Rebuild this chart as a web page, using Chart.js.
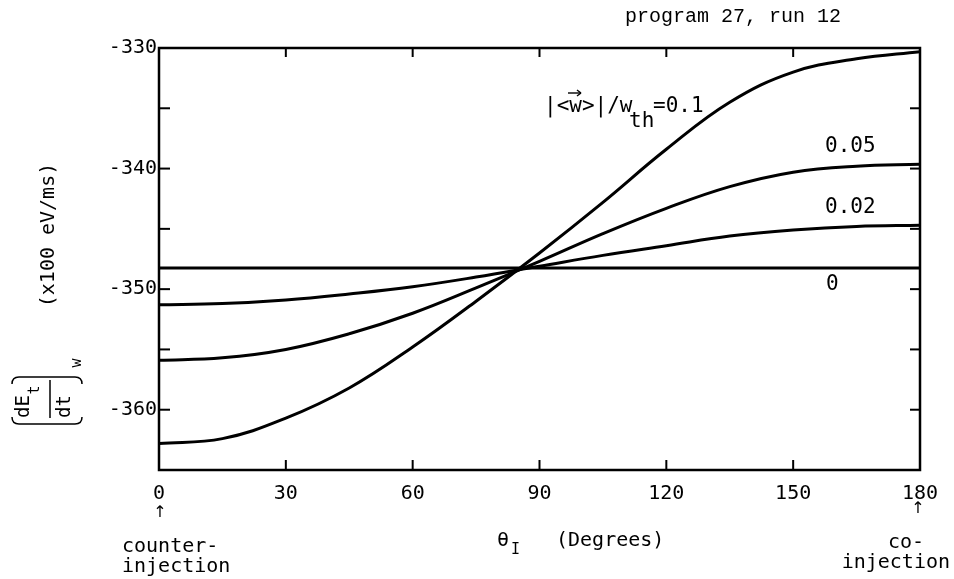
<!DOCTYPE html>
<html><head><meta charset="utf-8">
<script src="https://cdn.jsdelivr.net/npm/chart.js@4.4.1/dist/chart.umd.min.js"></script>
<style>html,body{margin:0;padding:0;background:#fff;}#wrap{width:954px;height:579px;}</style>
</head><body><div id="wrap"><canvas id="c" width="954" height="579"></canvas></div>
<script>
// ---- data ----
const thetaDeg = [0, 15, 30, 45, 60, 75, 90, 105, 120, 135, 150, 165, 180];
const ratio0   = [-348.25, -348.25, -348.25, -348.25, -348.25, -348.25, -348.25, -348.25, -348.25, -348.25, -348.25, -348.25, -348.25];
const ratio002 = [-351.3, -351.2, -350.9, -350.4, -349.8, -349.0, -348.1, -347.2, -346.4, -345.6, -345.1, -344.8, -344.7];
const ratio005 = [-355.9, -355.7, -355.0, -353.7, -352.0, -349.9, -347.7, -345.4, -343.3, -341.5, -340.3, -339.8, -339.65];
const ratio01  = [-362.8, -362.4, -360.7, -358.2, -354.8, -351.0, -347.0, -342.8, -338.4, -334.5, -332.0, -330.9, -330.3];
const seriesNames = ['0', '0.02', '0.05', '0.1'];
const xTickLabels = ['0', '30', '60', '90', '120', '150', '180'];
const yTickLabels = ['-360', '-350', '-340', '-330'];

const MONO = '"DejaVu Sans Mono", monospace';

function mk(name, vals) {
  return {
    label: name,
    data: thetaDeg.map((t, i) => ({x: t, y: vals[i]})),
    borderColor: '#000', borderWidth: 3, pointRadius: 0,
    tension: 0.4, fill: false
  };
}

const decor = {
  id: 'decor',
  afterDraw(chart) {
    const {ctx, chartArea: a, scales: {x, y}} = chart;
    ctx.save();
    ctx.strokeStyle = '#000'; ctx.fillStyle = '#000';
    const line = (x1, y1, x2, y2) => { ctx.beginPath(); ctx.moveTo(x1, y1); ctx.lineTo(x2, y2); ctx.stroke(); };
    const txt = (s, px, py, align, font) => {
      ctx.font = font || ('20px ' + MONO);
      ctx.textAlign = align || 'left'; ctx.textBaseline = 'middle';
      ctx.fillText(s, px, py);
    };
    // frame
    ctx.lineWidth = 2.5;
    ctx.strokeRect(a.left, a.top, a.right - a.left, a.bottom - a.top);
    // inward ticks
    ctx.lineWidth = 2;
    for (let v = 30; v < 180; v += 30) {
      const px = x.getPixelForValue(v);
      line(px, a.bottom, px, a.bottom - 10);
      line(px, a.top, px, a.top + 9);
    }
    for (let v = -360; v < -330; v += 5) {
      const py = y.getPixelForValue(v);
      line(a.left, py, a.left + 11, py);
      line(a.right, py, a.right - 10, py);
    }
    // header
    txt('program 27, run 12', 625, 17, 'left', '20px "Liberation Mono", monospace');
    // series labels
    txt('0.05', 825, 147, 'left', '21px ' + MONO);
    txt('0.02', 825, 208, 'left', '21px ' + MONO);
    txt(seriesNames[0], 826, 285, 'left', '21px ' + MONO);
    ctx.font = '21px ' + MONO; ctx.textAlign = 'left'; ctx.textBaseline = 'alphabetic';
    ctx.fillText('|<w>|/w', 544, 112);
    ctx.fillText('th', 629, 127);
    ctx.fillText('=' + seriesNames[3], 653, 112);
    // vector arrow over w
    ctx.lineWidth = 1.4;
    line(568, 93, 581, 93);
    line(581, 93, 577, 90); line(581, 93, 577, 96);
    // x-axis annotations
    txt('\u2191', 160, 513, 'center', '16px "DejaVu Sans"');
    txt('\u2191', 918, 509, 'center', '16px "DejaVu Sans"');
    txt('counter-', 122, 547);
    txt('injection', 122, 567);
    txt('co-', 888, 543);
    txt('injection', 950, 563, 'right');
    txt('\u03b8', 497, 541, 'left', '20px ' + MONO);
    txt('I', 511, 550, 'left', '15px ' + MONO);
    txt('(Degrees)', 556, 541);
    // y-axis title
    ctx.save();
    ctx.translate(49, 235); ctx.rotate(-Math.PI / 2);
    txt('(x100 eV/ms)', 0, 0, 'center');
    ctx.restore();
    ctx.save();
    ctx.translate(50, 400); ctx.rotate(-Math.PI / 2);
    txt('dE', -6.5, -26, 'center', '19px ' + MONO);
    txt('t', 10, -15, 'center', '15px ' + MONO);
    txt('dt', -6.5, 15, 'center', '19px ' + MONO);
    txt('w', 37, 27, 'center', '15px ' + MONO);
    ctx.lineWidth = 1.5;
    line(-18, 0, 20, 0);
    ctx.beginPath();
    ctx.moveTo(-17, -38); ctx.quadraticCurveTo(-24, -38, -24, -31); ctx.lineTo(-24, 25); ctx.quadraticCurveTo(-24, 32, -17, 32);
    ctx.moveTo(16, -38); ctx.quadraticCurveTo(23, -38, 23, -31); ctx.lineTo(23, 25); ctx.quadraticCurveTo(23, 32, 16, 32);
    ctx.stroke();
    ctx.restore();
    ctx.restore();
  }
};

new Chart(document.getElementById('c'), {
  type: 'line',
  data: { datasets: [mk(seriesNames[0], ratio0), mk(seriesNames[1], ratio002), mk(seriesNames[2], ratio005), mk(seriesNames[3], ratio01)] },
  options: {
    responsive: false, animation: false,
    layout: { padding: { top: 48, right: 34, bottom: 0, left: 0 } },
    plugins: { legend: { display: false }, tooltip: { enabled: false } },
    scales: {
      x: {
        type: 'linear', min: 0, max: 180,
        afterFit(s) { s.height = 109; },
        grid: { display: false, drawTicks: false }, border: { display: false },
        ticks: { stepSize: 30, padding: 12, color: '#000', font: { family: 'DejaVu Sans Mono', size: 20 },
                 callback: (v) => { const i = [0,30,60,90,120,150,180].indexOf(v); return i >= 0 ? xTickLabels[i] : ''; } }
      },
      y: {
        type: 'linear', min: -365, max: -330,
        afterFit(s) { s.width = 159; },
        grid: { display: false, drawTicks: false }, border: { display: false },
        ticks: { stepSize: 10, includeBounds: false, padding: 2, color: '#000', font: { family: 'DejaVu Sans Mono', size: 20 },
                 callback: (v) => { const i = [-360,-350,-340,-330].indexOf(v); return i >= 0 ? yTickLabels[i] : ''; } }
      }
    }
  },
  plugins: [decor]
});
</script></body></html>
